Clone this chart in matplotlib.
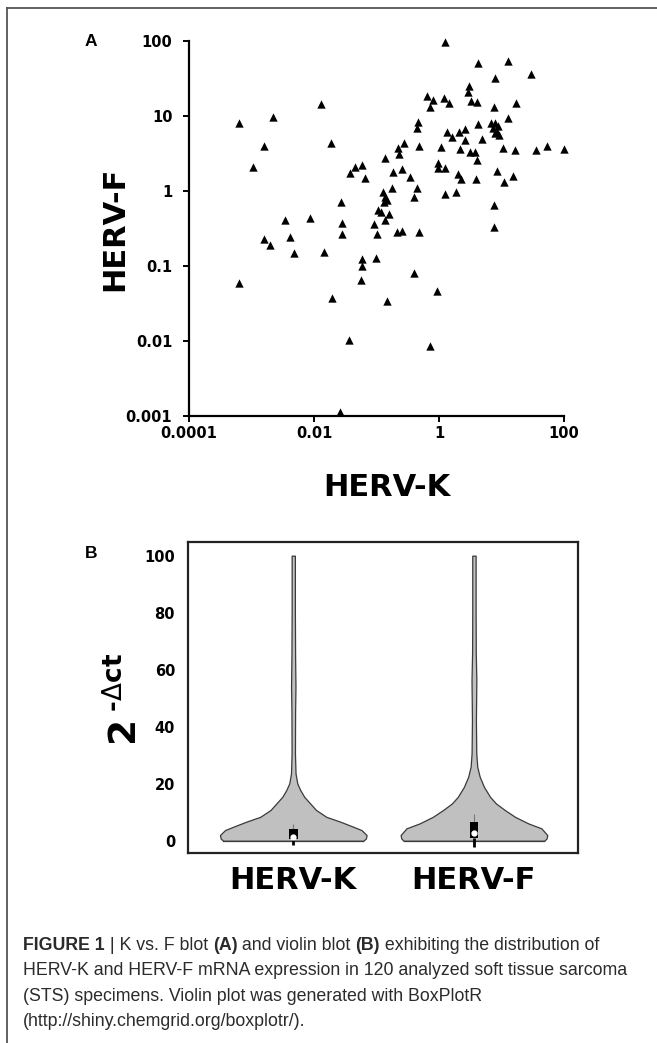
import matplotlib
matplotlib.use("Agg")
import matplotlib.pyplot as plt
from matplotlib import font_manager
from matplotlib.lines import Line2D
import numpy as np

W, H = 657, 1043
DPI = 100

#############################################################
# Data
#############################################################
# Panel A: HERV-K (x) vs HERV-F (y).
herv_k = [0.00064, 0.0022, 0.0128, 0.0016, 0.0187, 0.00104, 0.0034, 0.0087, 0.0016, 0.0020,
          0.0041, 0.0047, 0.0146, 0.00062, 0.0196, 0.0367, 0.0258, 0.027, 0.0284, 0.0284,
          0.0586, 0.0586, 0.0559, 0.098, 0.091, 0.1007, 0.146, 0.21, 0.0377, 0.0453,
          0.0586, 0.0662, 0.1045, 0.118, 0.16, 0.137, 0.128, 0.137, 0.18, 0.132,
          0.146, 0.137, 0.223, 0.232, 0.275, 0.186, 0.253, 0.344, 0.259, 0.484,
          0.398, 0.94, 0.718, 0.44, 0.403, 1.23, 1.87, 0.975, 0.953, 1.25,
          2.04, 2.21, 3.87, 0.484, 1.09, 2.13, 3.13, 3.73, 4.13, 0.467,
          0.45, 1.32, 1.63, 2.11, 2.64, 2.61, 0.65, 0.81, 0.718, 1.22,
          1.46, 1.26, 4.2, 12.6, 29.9, 7.73, 3.05, 2.86, 3.21, 4.06,
          7.67, 17.3, 12.8, 4.16, 6.67, 7.73, 8.89, 7.4, 8.38, 9.0,
          4.91, 10.7, 16.6, 35.6, 52.9, 100, 8.38, 11.1, 15.5, 7.5,
          7.45, 7.87]
herv_f = [8.0, 9.8, 14.3, 4.0, 4.3, 2.1, 0.41, 0.44, 0.23, 0.19,
          0.24, 0.148, 0.155, 0.059, 0.037, 0.0103, 0.00112, 0.72, 0.37, 0.265,
          0.123, 0.1, 0.065, 0.127, 0.363, 0.265, 0.034, 0.287, 1.72, 2.11,
          2.22, 1.47, 0.558, 0.53, 0.49, 0.41, 0.98, 0.84, 1.09, 0.72,
          0.76, 2.73, 3.7, 3.08, 4.3, 1.81, 1.96, 1.55, 0.296, 0.287,
          0.0814, 0.0469, 0.00858, 1.11, 0.82, 0.90, 0.97, 2.36, 2.01, 2.01,
          1.67, 1.43, 1.44, 3.98, 3.9, 3.6, 3.34, 3.31, 2.59, 8.3,
          6.9, 6.2, 5.25, 6.1, 6.8, 4.79, 18.5, 16.3, 13.2, 17.4,
          14.8, 98, 50.9, 53.6, 36, 32.1, 25.1, 21.1, 15.8, 15.5,
          13.1, 14.8, 9.3, 7.8, 8.1, 8.0, 7.36, 6.86, 6.2, 5.58,
          4.91, 3.7, 3.52, 3.49, 3.98, 3.6, 1.82, 1.32, 1.6, 0.66,
          0.334, 5.87]

a_xticks = [0.0001, 0.01, 1, 100]
a_xticklabels = ["0.0001", "0.01", "1", "100"]
a_yticks = [0.001, 0.01, 0.1, 1, 10, 100]
a_yticklabels = ["0.001", "0.01", "0.1", "1", "10", "100"]

# Panel B: violin outlines (relative density at each level of 2^-dct).
groups = ["HERV-K", "HERV-F"]
k_levels = [0, 0.8, 2.0, 3.75, 4.9, 6.7, 8.4, 10.8, 13.1, 15.4, 17.8, 20.1, 23.6, 30.7, 45, 54, 65, 80, 100]
k_density = [0.955, 0.99, 1.0, 0.93, 0.82, 0.64, 0.45, 0.31, 0.23, 0.15, 0.095, 0.055, 0.031, 0.023,
             0.025, 0.03, 0.025, 0.022, 0.022]
f_levels = [0, 0.8, 2.0, 4.35, 6.1, 8.4, 10.8, 13.1, 15.4, 18.9, 22.5, 26, 30.7, 42.3, 56.4, 65.8, 80, 100]
f_density = [0.96, 0.99, 1.0, 0.92, 0.74, 0.56, 0.42, 0.30, 0.22, 0.137, 0.078, 0.045, 0.032, 0.027,
             0.033, 0.025, 0.023, 0.023]
box_q1 = [0.5, 0.8]
box_q3 = [4.0, 6.5]
box_median = [1.2, 2.6]
whisk_hi = [6.0, 9.4]
whisk_lo = [-1.6, -2.2]
b_yticks = [0, 20, 40, 60, 80, 100]

caption_lines = [
    [("FIGURE 1", "bold"), (" | K vs. F blot ", "normal"), ("(A)", "bold"),
     (" and violin blot ", "normal"), ("(B)", "bold"), (" exhibiting the distribution of", "normal")],
    [("HERV-K and HERV-F mRNA expression in 120 analyzed soft tissue sarcoma", "normal")],
    [("(STS) specimens. Violin plot was generated with BoxPlotR", "normal")],
    [("(http://shiny.chemgrid.org/boxplotr/).", "normal")],
]

#############################################################
# Figure
#############################################################
plt.rcParams['font.family'] = ['DejaVu Sans']
plt.rcParams['mathtext.fontset'] = 'custom'
plt.rcParams['mathtext.bf'] = 'DejaVu Sans:bold'
plt.rcParams['mathtext.rm'] = 'DejaVu Sans'

fig = plt.figure(figsize=(W / DPI, H / DPI), dpi=DPI)


def fx(px):
    return px / W


def fy(py):
    return 1 - py / H


# Outer frame (top and left only).
fig.add_artist(Line2D([fx(7), fx(657)], [fy(8), fy(8)], color="#555555", lw=1.3))
fig.add_artist(Line2D([fx(7), fx(7)], [fy(8), fy(1043)], color="#555555", lw=1.3))

#############################################################
# Panel A - scatter
#############################################################
axA = fig.add_axes([fx(189), fy(416), (564 - 189) / W, (416 - 41) / H])
axA.scatter(herv_k, herv_f, marker="^", s=36, color="black", linewidths=0, clip_on=False, zorder=3)
axA.set_xscale("log")
axA.set_yscale("log")
axA.set_xlim(1e-4, 100)
axA.set_ylim(1e-3, 100)
axA.set_xticks(a_xticks)
axA.set_xticklabels(a_xticklabels)
axA.set_yticks(a_yticks)
axA.set_yticklabels(a_yticklabels)
axA.minorticks_off()
for s in ["top", "right"]:
    axA.spines[s].set_visible(False)
for s in ["left", "bottom"]:
    axA.spines[s].set_linewidth(1.6)
axA.tick_params(direction="out", length=4, width=1.4, labelsize=10.5, pad=3)
axA.tick_params(axis="y", pad=8)
for lab in axA.get_xticklabels() + axA.get_yticklabels():
    lab.set_fontweight("bold")
axA.set_xlabel("HERV-K", fontsize=22, fontweight="bold")
axA.xaxis.set_label_coords((387 - 189) / 375, (416 - 487) / 375)
axA.xaxis.label.set_va("center")
axA.set_ylabel("HERV-F", fontsize=22, fontweight="bold")
axA.yaxis.set_label_coords((115 - 189) / 375, 0.5)
axA.yaxis.label.set_va("center")
fig.text(fx(91), fy(42), "A", fontsize=12.5, fontweight="bold", family="Liberation Sans",
         ha="center", va="center")

#############################################################
# Panel B - violins
#############################################################
axB = fig.add_axes([fx(188.3), fy(853.3), (578 - 188.3) / W, (853.3 - 541.7) / H])
positions = [1, 2]
half_w = 0.406
outlines = [(k_levels, k_density), (f_levels, f_density)]
for pos, (lev, dens) in zip(positions, outlines):
    lev = np.array(lev)
    dens = np.array(dens) * half_w
    axB.fill_betweenx(lev, pos - dens, pos + dens, facecolor="#c0c0c0", edgecolor="#3a3a3a",
                      linewidth=0.9, zorder=2)
    axB.plot([pos - dens[0], pos + dens[0]], [lev[0], lev[0]], color="#3a3a3a", lw=0.9, zorder=2)

for i, pos in enumerate(positions):
    axB.vlines(pos, box_q3[i], whisk_hi[i], color="#777777", lw=0.8, zorder=3)
    axB.vlines(pos, whisk_lo[i], box_q1[i], color="black", lw=2.0, zorder=3)
    axB.bar(pos, box_q3[i] - box_q1[i], bottom=box_q1[i], width=0.048, color="black", zorder=4)
    axB.plot(pos, box_median[i], "o", ms=3.5, mfc="white", mec="white", zorder=5)

axB.set_xlim(0.419, 2.576)
axB.set_ylim(-4.4, 104.9)
axB.set_xticks(positions)
axB.set_xticklabels(groups, fontsize=22, fontweight="bold")
axB.set_yticks(b_yticks)
axB.tick_params(axis="y", length=0, pad=9.5, labelsize=10.5)
axB.tick_params(axis="x", length=0, pad=9)
for lab in axB.get_yticklabels():
    lab.set_fontweight("bold")
for s in axB.spines.values():
    s.set_linewidth(1.6)
    s.set_color("#222222")
fig.text(fx(125), fy(699), "$\\mathbf{2}^{\\ \\mathbf{\u2010}\\Delta\\mathbf{ct}}$", fontsize=27,
         rotation=90, ha="center", va="center")
fig.text(fx(91), fy(553), "B", fontsize=12.5, fontweight="bold", family="Liberation Sans",
         ha="center", va="center")

#############################################################
# Caption
#############################################################
names = {f.name for f in font_manager.fontManager.ttflist}
cap_family = "Liberation Sans Narrow" if "Liberation Sans Narrow" in names else "Liberation Sans"
renderer = fig.canvas.get_renderer()

# Fit font size so the second caption line spans the same width as in the figure.
probe = fig.text(0, 0, caption_lines[1][0][0], fontsize=10, family=cap_family)
probe_w = probe.get_window_extent(renderer=renderer).width
probe.remove()
cap_size = 10 * (628 - 23) / probe_w

baselines = [950, 975.3, 1000.6, 1026]
for runs, base in zip(caption_lines, baselines):
    x = 23
    for txt, weight in runs:
        t = fig.text(fx(x), fy(base), txt, fontsize=cap_size, fontweight=weight, family=cap_family,
                     color="#2b2b2b", ha="left", va="baseline")
        x = t.get_window_extent(renderer=renderer).x1

fig.savefig("out.png", dpi=DPI)
